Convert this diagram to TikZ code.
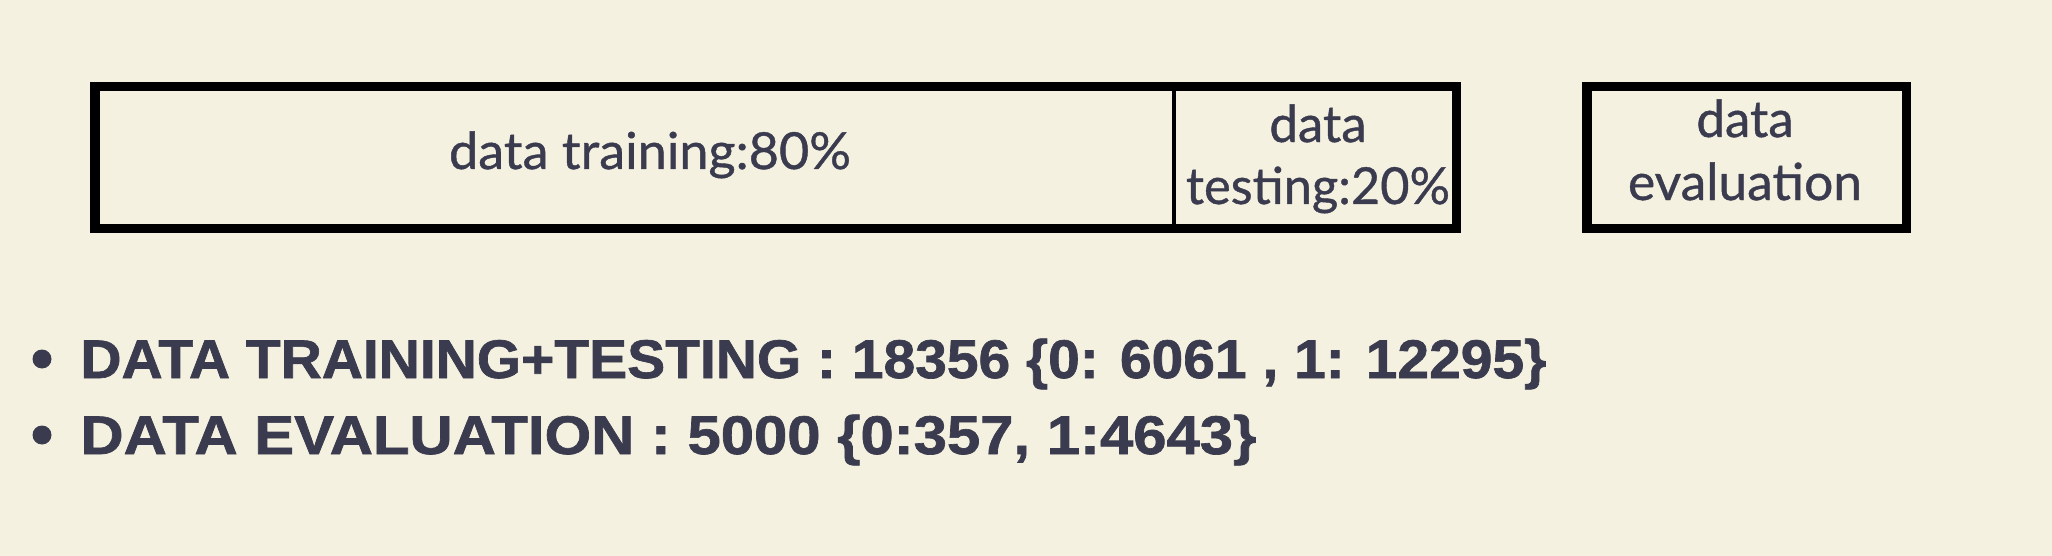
\documentclass[tikz,border=0pt]{standalone}
\usepackage{fontspec}
\setmainfont{Lato}
\newfontfamily\lblfont{Lato}[FakeBold=0.8]
\newfontfamily\listfont{Liberation Sans}[FakeBold=1.2]
\usepackage{graphicx}
\definecolor{bg}{HTML}{F5F1E1}
\definecolor{ink}{HTML}{3A3B4E}
\tikzset{
  box/.style={draw=black, line width=4.75pt, inner sep=0pt},
  lbl/.style={text=ink, inner sep=0pt, font=\lblfont\fontsize{25.5}{30}\selectfont},
  listtxt/.style={text=ink, inner sep=0pt, font=\listfont\bfseries\fontsize{27.2}{30}\selectfont},
  dot/.style={circle, fill=ink, inner sep=0pt, minimum size=9.5pt},
  divider/.style={draw=black, line width=2pt}
}
\begin{document}
\begin{tikzpicture}[x=0.5pt,y=-0.5pt]
\useasboundingbox (0,0) rectangle (2052,556);
\fill[bg] (0,0) rectangle (2052,556);
\node[box, minimum width=680.75pt, minimum height=71pt] (split) at (775.75,157.5) {};
\node[box, minimum width=159.75pt, minimum height=71pt] (evalbox) at (1746.75,157.5) {};
\coordinate (dt) at (1174,82);
\coordinate (db) at (1174,228.5);
\draw[divider] (dt) -- (db);
\node[lbl, anchor=base] (trn) at (650,169) {\resizebox{201pt}{\height}{data training:80\%}};
\node[lbl, anchor=base] (tst1) at (1318,142) {data};
\node[lbl, anchor=base] (tst2) at (1318,204) {\resizebox{132pt}{\height}{testing:20\%}};
\node[lbl, anchor=base] (ev1) at (1745,137) {data};
\node[lbl, anchor=base] (ev2) at (1745,200) {\resizebox{117pt}{\height}{evaluation}};
\node[dot] (b1) at (42,359) {};
\node[dot] (b2) at (42,435) {};
\node[listtxt, anchor=base west] (l1) at (80,378) {\resizebox{733pt}{\height}{DATA TRAINING+TESTING : 18356 \{0: 6061 , 1: 12295\}}};
\node[listtxt, anchor=base west] (l2) at (80,454) {\resizebox{588pt}{\height}{DATA EVALUATION : 5000 \{0:357, 1:4643\}}};
\end{tikzpicture}
\end{document}
